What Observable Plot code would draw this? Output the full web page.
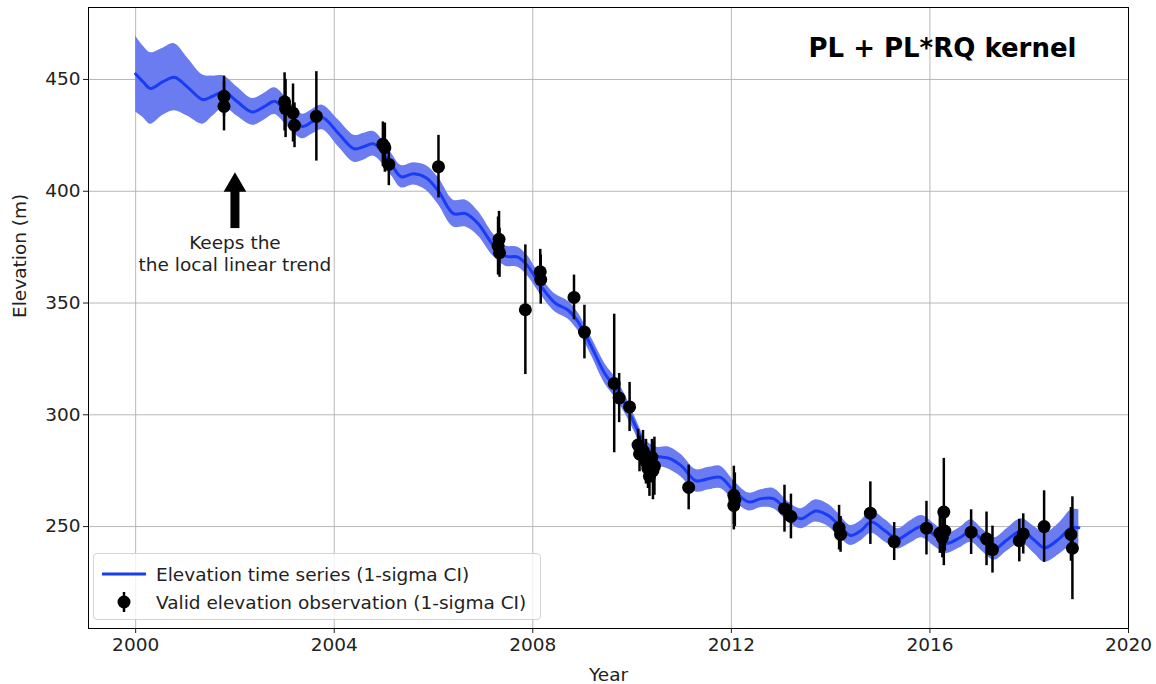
<!DOCTYPE html>
<html>
<head>
<meta charset="utf-8">
<script src="https://cdn.jsdelivr.net/npm/d3@7"></script>
<script src="https://cdn.jsdelivr.net/npm/@observablehq/plot@0.6"></script>
<style>
  html, body { margin: 0; padding: 0; background: #fff; }
  #wrap { position: relative; width: 1156px; height: 684px; font-family: "DejaVu Sans", sans-serif; }
  #legend { position: absolute; left: 93px; top: 553px; width: 448px; height: 67px;
            border: 1px solid #d4d4d4; border-radius: 4px; background: rgba(255,255,255,0.8); box-sizing: border-box; }
  #legend svg { position: absolute; left: 0; top: 0; }
</style>
</head>
<body>
<div id="wrap">
  <div id="chart"></div>
  <div id="legend">
    <svg width="448" height="67" font-family="DejaVu Sans, sans-serif" font-size="18.5" fill="#222">
      <line x1="8" x2="52" y1="20" y2="20" stroke="#1a3cf5" stroke-width="3"></line>
      <text x="62" y="26.5">Elevation time series (1-sigma CI)</text>
      <line x1="30" x2="30" y1="38" y2="58" stroke="black" stroke-width="2.5"></line>
      <circle cx="30" cy="48" r="6.5" fill="black"></circle>
      <text x="62" y="54.5">Valid elevation observation (1-sigma CI)</text>
    </svg>
  </div>
</div>
<script>
// GP mean curve
const curveYear = [2000.00,2000.15,2000.30,2000.55,2000.78,2001.05,2001.35,2001.55,2001.78,2002.05,2002.35,2002.60,2002.80,2003.10,2003.36,2003.55,2003.76,2004.10,2004.40,2004.60,2004.80,2005.15,2005.35,2005.60,2005.85,2006.10,2006.40,2006.65,2006.90,2007.20,2007.45,2007.70,2007.90,2008.15,2008.45,2008.70,2008.90,2009.17,2009.45,2009.70,2009.90,2010.10,2010.30,2010.50,2010.75,2011.00,2011.28,2011.55,2011.78,2012.05,2012.35,2012.60,2012.85,2013.15,2013.40,2013.70,2013.95,2014.15,2014.40,2014.60,2014.82,2015.10,2015.35,2015.60,2015.83,2016.10,2016.33,2016.60,2016.83,2017.05,2017.30,2017.55,2017.84,2018.10,2018.31,2018.60,2018.85,2019.00];
const curveMean = [452.5,449,446,449,451,446.5,441,442.5,444.5,440,435.5,438,440.3,434,429,431,433,425.5,419,420,421.2,412,406.5,407.8,406,400,390,390,385.5,376,371,370.5,366.5,358,350,347,342,331,318.5,311,303,293.5,284.5,281.5,280.5,277,270.5,271.5,272,266,261,262.5,262.5,256.5,253.5,257,255,251,246,248,252,248,244.5,247.5,250,246,242.5,245,248,244,240,244,248,244,240.5,244.5,249.5,249.5];
const curveSigma = [17,16,16,15,15,13,11,9,7,6.5,6,6,6,6,5.5,5.5,5.5,6,6,6,5.5,5,5,5,5.5,6,6,6,5.5,5,4.5,4.5,4.5,4,4,4,4,4,4.5,4.5,4,3.5,3.5,4,5,5,5,5,5,4.5,4,4,4.5,4.5,4.5,5,5,5,4.5,4.5,5,5,4.5,5,5,5,4.5,4.5,5,5,5,5,5.5,6,6.5,7,8,8];

// observations
const obsYear = [2001.78,2001.78,2003.00,2003.02,2003.17,2003.20,2003.64,2004.98,2005.02,2005.10,2006.10,2007.32,2007.30,2007.33,2007.85,2008.15,2008.16,2008.83,2009.04,2009.64,2009.74,2009.95,2010.12,2010.15,2010.22,2010.28,2010.32,2010.35,2010.40,2010.42,2010.45,2011.14,2012.05,2012.07,2012.05,2013.07,2013.20,2014.17,2014.20,2014.80,2015.28,2015.93,2016.20,2016.25,2016.28,2016.30,2016.83,2017.14,2017.26,2017.80,2017.88,2018.30,2018.84,2018.87];
const obsElev = [442.5,438,440,437,435,429.5,433.5,421,419.5,412,411,378.5,375.5,372.5,347,364,360.5,352.5,337,314,307.5,303.5,286.5,282.5,284,279,276,272.5,281,275,277,267.5,264,262,259.5,258,254.5,249.5,246.5,256,243.3,249.3,247,245,256.5,248,247.5,244.5,239.7,243.7,246.7,250,246.5,240.3];
const obsErr = [9,11,13,13,13,10,20,10,11,9.5,14,12.5,13,11,29,10,11,10,12,31,11,11,7,8,9,10,9,9,8,13,13,10,13,12,11,10.5,10,10,8,14,8.5,12,9,9,24,9,10,12,10.5,9.5,9,16,12,23];

// annotation
const noteYear = [2002];
const arrowTail = [383.3];
const arrowHead = [402.7];
const noteLines = ["Keeps the", "the local linear trend"];
const noteElev = [376.6, 366.8];

const xTicks = [2000, 2004, 2008, 2012, 2016, 2020];
const yTicks = [250, 300, 350, 400, 450];
const title = "PL + PL*RQ kernel";

const curve = curveYear.map((t, i) => ({t, m: curveMean[i], s: curveSigma[i]}));
const obs = obsYear.map((t, i) => ({t, y: obsElev[i], e: obsErr[i]}));
const notes = noteLines.map((txt, i) => ({txt, t: noteYear[0], y: noteElev[i]}));
const arrow = [{t: noteYear[0], y1: arrowTail[0], y2: arrowHead[0]}];

const FS = 18.5;
const plot = Plot.plot({
  width: 1156,
  height: 684,
  marginLeft: 88,
  marginRight: 28,
  marginTop: 7,
  marginBottom: 56,
  style: {fontFamily: "DejaVu Sans, sans-serif", background: "white", color: "#222"},
  x: {domain: [1999.05, 2020], label: null},
  y: {domain: [204.4, 482.2], label: null},
  marks: [
    Plot.gridX(xTicks, {stroke: "#b8b8b8", strokeOpacity: 1, strokeWidth: 1}),
    Plot.gridY(yTicks, {stroke: "#b8b8b8", strokeOpacity: 1, strokeWidth: 1}),
    Plot.areaY(curve, {x: "t", y1: d => d.m - d.s, y2: d => d.m + d.s, fill: "#6b7cf0", fillOpacity: 1, curve: "catmull-rom"}),
    Plot.line(curve, {x: "t", y: "m", stroke: "#1a3cf5", strokeWidth: 3, curve: "catmull-rom"}),
    Plot.ruleX(obs, {x: "t", y1: d => d.y - d.e, y2: d => d.y + d.e, stroke: "black", strokeWidth: 2.5}),
    Plot.dot(obs, {x: "t", y: "y", r: 6.5, fill: "black", stroke: "none"}),
    Plot.ruleX(arrow, {x: "t", y1: "y1", y2: "y2", stroke: "black", strokeWidth: 9}),
    Plot.dot(arrow, {x: "t", y: "y2", symbol: "triangle", r: 8.4, fill: "black", stroke: "none"}),
    Plot.text(notes, {x: "t", y: "y", text: "txt", fontSize: FS, fill: "#222"}),
    Plot.text([title], {frameAnchor: "top-right", dx: -52, dy: 41, lineAnchor: "middle", text: d => d, fontSize: 26, fontWeight: "bold", fill: "black", textAnchor: "end"}),
    Plot.frame({stroke: "black", strokeWidth: 1}),
    Plot.axisX({ticks: xTicks, tickFormat: d => String(d), tickSize: 5, tickPadding: 4, fontSize: FS, label: null}),
    Plot.axisY({ticks: yTicks, tickSize: 5, tickPadding: 3, fontSize: FS, label: null}),
    Plot.text(["Year"], {frameAnchor: "bottom", dy: 47, lineAnchor: "middle", text: d => d, fontSize: FS, fill: "#222"}),
    Plot.text(["Elevation (m)"], {frameAnchor: "left", dx: -68, rotate: -90, text: d => d, fontSize: FS, fill: "#222"})
  ]
});
document.getElementById("chart").appendChild(plot);
</script>
</body>
</html>
